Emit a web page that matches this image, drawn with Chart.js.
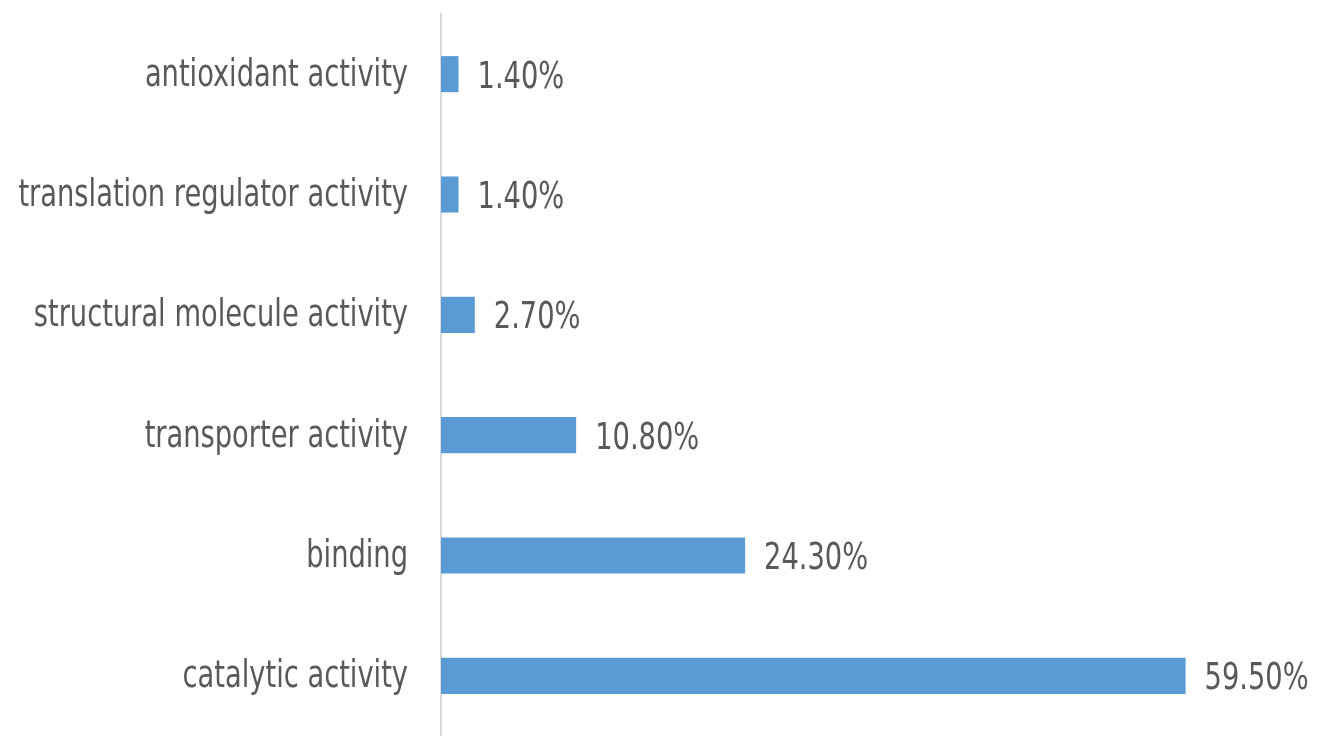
<!DOCTYPE html>
<html>
<head>
<meta charset="utf-8">
<script src="https://cdn.jsdelivr.net/npm/chart.js@4.4.1/dist/chart.umd.min.js"></script>
<style>
  body { margin: 0; background: #fff; }
  canvas { display: block; }
</style>
</head>
<body>
<canvas id="myChart" width="1330" height="736"></canvas>
<script>
// molecular function categories, top to bottom
const categories = [
  'antioxidant activity',
  'translation regulator activity',
  'structural molecule activity',
  'transporter activity',
  'binding',
  'catalytic activity'
];
const percents = [1.4, 1.4, 2.7, 10.8, 24.3, 59.5];

const FONT = "37px 'Liberation Sans Narrow', 'DejaVu Sans Condensed', sans-serif";
const TEXT = '#595959';
const SQUEEZE = 0.82; // narrow the text horizontally

// draws narrowed text at x,y
function drawText(ctx, str, x, y, align) {
  ctx.save();
  ctx.translate(x, y);
  ctx.scale(SQUEEZE, 1);
  ctx.textAlign = align;
  ctx.fillText(str, 0, 0);
  ctx.restore();
}

// category names left of the axis and values at the end of each bar
const barLabels = {
  id: 'barLabels',
  afterDatasetsDraw(chart) {
    const ctx = chart.ctx;
    const meta = chart.getDatasetMeta(0);
    const left = chart.chartArea.left;
    ctx.save();
    ctx.font = FONT;
    ctx.fillStyle = TEXT;
    ctx.textBaseline = 'middle';
    meta.data.forEach(function(bar, i) {
      drawText(ctx, categories[i], left - 33, bar.y + 2, 'right');
      drawText(ctx, percents[i].toFixed(2) + '%', bar.x + 19, bar.y + 4, 'left');
    });
    ctx.restore();
  }
};

var ctx = document.getElementById('myChart').getContext('2d');

var chart = new Chart(ctx, {
  type: 'bar',
  data: {
    labels: categories,
    datasets: [{
      data: percents,
      backgroundColor: '#5B9BD5',
      borderWidth: 0,
      barPercentage: 0.3,
      categoryPercentage: 1
    }]
  },
  options: {
    indexAxis: 'y',
    responsive: false,
    animation: false,
    layout: { padding: { top: 14, right: 13, bottom: 0, left: 0 } },
    plugins: {
      legend: { display: false },
      tooltip: { enabled: false }
    },
    scales: {
      x: {
        display: false,
        min: 0,
        max: 70
      },
      y: {
        grid: { display: false, drawTicks: false },
        border: { display: true, color: '#D9D9D9', width: 2 },
        ticks: { display: false },
        afterFit: function(scale) {
          scale.width = 441;
        }
      }
    }
  },
  plugins: [barLabels]
});
</script>
</body>
</html>
